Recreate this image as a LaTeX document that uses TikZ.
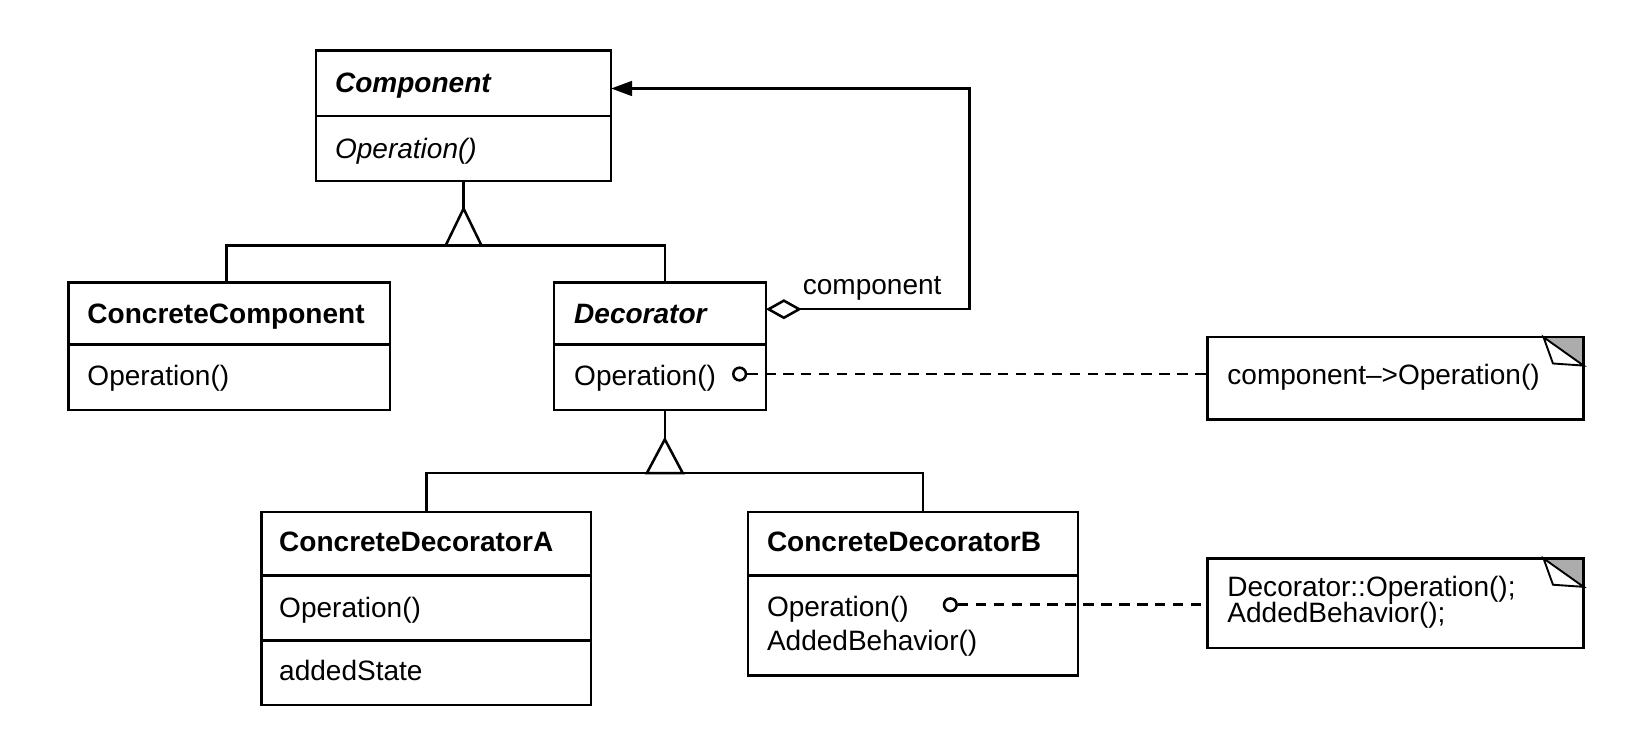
\documentclass[tikz,border=0pt]{standalone}
\usepackage{fontspec}
\setmainfont{Liberation Sans}
\usetikzlibrary{arrows.meta,calc}
\begin{document}
\begin{tikzpicture}[x=0.5pt,y=-0.5pt,
  line join=miter,
  box/.style={draw,line width=1.2pt,rectangle,inner sep=0pt,outer sep=0pt,anchor=north west},
  lbl/.style={anchor=base west,inner sep=0pt,outer sep=0pt,font=\fontsize{13.3}{15}\selectfont},
  conn/.style={line width=1.2pt},
  dashconn/.style={line width=1.2pt,dash pattern=on 5pt off 3.5pt},
  ball/.style={circle,draw,line width=1.2pt,fill=white,minimum size=6pt,inner sep=0pt},
  divider/.style={line width=1.2pt},
  foldline/.style={line width=0.9pt,fill=white}
]
\useasboundingbox (0,0) rectangle (1568,716);
% class boxes
\node[box,minimum width=140pt,minimum height=62pt] (comp) at (300,48) {};
\node[box,minimum width=152.5pt,minimum height=60.5pt] (cc) at (65,268) {};
\node[box,minimum width=100.5pt,minimum height=60.5pt] (deco) at (526,268) {};
\node[box,minimum width=156.5pt,minimum height=91.5pt] (cda) at (248,486) {};
\node[box,minimum width=156.5pt,minimum height=77.5pt] (cdb) at (710,486) {};
\node[box,minimum width=178.5pt,minimum height=39pt] (note1) at (1146,320) {};
\node[box,minimum width=178.5pt,minimum height=42.5pt] (note2) at (1146,530) {};
% dividers
\draw[divider] (comp.north west) ++(0,62) -- ++(280,0);
\draw[divider] (cc.north west) ++(0,59) -- ++(305,0);
\draw[divider] (deco.north west) ++(0,59) -- ++(201,0);
\draw[divider] (cda.north west) ++(0,60) -- ++(313,0);
\draw[divider] (cda.north west) ++(0,122) -- ++(313,0);
\draw[divider] (cdb.north west) ++(0,60) -- ++(313,0);
% labels
\node[lbl] (compName) at (318,88) {\textbf{\textit{Component}}};
\node[lbl] (compOp) at (318,150) {\textit{Operation()}};
\node[lbl] (ccName) at (83,307) {\textbf{ConcreteComponent}};
\node[lbl] (ccOp) at (83,366) {Operation()};
\node[lbl] (decoName) at (545,307) {\textbf{\textit{Decorator}}};
\node[lbl] (decoOp) at (545,366) {Operation()};
\node[lbl] (cdaName) at (265,523) {\textbf{ConcreteDecoratorA}};
\node[lbl] (cdaOp) at (265,586) {Operation()};
\node[lbl] (cdaState) at (265,646) {addedState};
\node[lbl] (cdbName) at (728,523) {\textbf{ConcreteDecoratorB}};
\node[lbl] (cdbOp) at (728,585) {Operation()};
\node[lbl] (cdbAdd) at (728,617) {AddedBehavior()};
\node[lbl] (note1Text) at (1165,365) {component\textendash{}>Operation()};
\node[lbl] (note2TextA) at (1165,566) {Decorator::Operation();};
\node[lbl] (note2TextB) at (1165,591) {AddedBehavior();};
\node[lbl] (aggLabel) at (762,280) {component};
% inheritance 1
\coordinate (inh1Apex) at (440,198);
\coordinate (inh1Bar) at (440,233);
\coordinate (ccTop) at (215,268);
\coordinate (decoTop) at (631,268);
\draw[conn] (comp.south) -- (inh1Apex);
\draw[conn,fill=white] (inh1Apex) -- (423,233) -- (457,233) -- cycle;
\draw[conn] (ccTop) |- (inh1Bar) -| (decoTop);
% inheritance 2
\coordinate (decoBot) at (631,389);
\coordinate (inh2Apex) at (631,417);
\coordinate (inh2Bar) at (631,449);
\coordinate (cdaTop) at (405,486);
\coordinate (cdbTop) at (876,486);
\draw[conn] (decoBot) -- (inh2Apex);
\draw[conn,fill=white] (inh2Apex) -- (614,449) -- (648,449) -- cycle;
\draw[conn] (cdaTop) |- (inh2Bar) -| (cdbTop);
% aggregation
\coordinate (aggStart) at (727,293.5);
\coordinate (aggTurn) at (920,293.5);
\coordinate (compIn) at (580,84);
\draw[conn,{Diamond[open,fill=white,length=17pt,width=9.5pt]}-{Triangle[length=10pt,width=7pt]}] (aggStart) -- (aggTurn) |- (compIn);
% note connectors
\node[ball] (ball1) at (702,355) {};
\node[ball] (ball2) at (902,574) {};
\draw[dashconn] (ball1.east) -- (ball1.east -| note1.west);
\draw[dashconn] (ball2.east) -- (ball2.east -| note2.west);
% folded corners
\fill[gray!65] ($(note1.north east)+(-38,0)$) -- (note1.north east) -- ($(note1.north east)+(0,27)$) -- cycle;
\draw[foldline] ($(note1.north east)+(-38,0)$) -- ($(note1.north east)+(-29,25)$) -- ($(note1.north east)+(0,27)$) -- cycle;
\draw[line width=1.2pt] ($(note1.north east)+(-45,0)$) -- (note1.north east) -- ++(0,35);
\fill[gray!65] ($(note2.north east)+(-38,0)$) -- (note2.north east) -- ($(note2.north east)+(0,27)$) -- cycle;
\draw[foldline] ($(note2.north east)+(-38,0)$) -- ($(note2.north east)+(-29,25)$) -- ($(note2.north east)+(0,27)$) -- cycle;
\draw[line width=1.2pt] ($(note2.north east)+(-45,0)$) -- (note2.north east) -- ++(0,35);
\end{tikzpicture}
\end{document}
